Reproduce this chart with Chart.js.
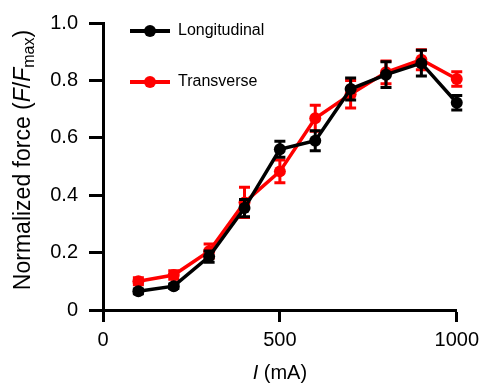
<!DOCTYPE html>
<html>
<head>
<meta charset="utf-8">
<script src="https://cdn.jsdelivr.net/npm/chart.js@4.4.1/dist/chart.umd.min.js"></script>
<style>
html,body{margin:0;padding:0;background:#fff;}
#wrap{width:485px;height:383px;}
</style>
</head>
<body>
<div id="wrap"><canvas id="c" width="485" height="383"></canvas></div>
<script>
const currents = [100, 200, 300, 400, 500, 600, 700, 800, 900, 1000];
const longMean = [0.065, 0.083, 0.186, 0.355, 0.56, 0.59, 0.77, 0.82, 0.86, 0.722];
const longErr  = [0.008, 0.008, 0.02, 0.03, 0.028, 0.035, 0.038, 0.045, 0.045, 0.025];
const transMean = [0.10, 0.122, 0.205, 0.375, 0.483, 0.668, 0.752, 0.828, 0.872, 0.805];
const transErr  = [0.012, 0.015, 0.025, 0.053, 0.04, 0.045, 0.048, 0.04, 0.035, 0.025];
const seriesNames = ['Longitudinal', 'Transverse'];
const seriesColors = ['#000000', '#ff0000'];
const xTicks = [0, 500, 1000];
const xTickLabels = ['0', '500', '1000'];
const yTicks = [0, 0.2, 0.4, 0.6, 0.8, 1.0];
const yTickLabels = ['0', '0.2', '0.4', '0.6', '0.8', '1.0'];

const FONT = '"Liberation Sans", Arial, Helvetica, sans-serif';

function pts(means){ return currents.map((x,i)=>({x:x, y:means[i]})); }

const errors = [longErr, transErr];

const errorBarPlugin = {
  id: 'errorBars',
  afterDatasetDraw(chart, args){
    const i = args.index;
    const meta = args.meta;
    const ds = chart.data.datasets[i];
    const ys = chart.scales.y;
    const ctx = chart.ctx;
    ctx.save();
    ctx.strokeStyle = ds.borderColor;
    ctx.lineWidth = 3;
    meta.data.forEach((el, j) => {
      const v = ds.data[j].y, e = errors[i][j];
      const x = el.x;
      const yt = ys.getPixelForValue(v + e);
      const yb = ys.getPixelForValue(v - e);
      ctx.beginPath();
      ctx.moveTo(x, yt); ctx.lineTo(x, yb);
      ctx.moveTo(x - 5.5, yt); ctx.lineTo(x + 5.5, yt);
      ctx.moveTo(x - 5.5, yb); ctx.lineTo(x + 5.5, yb);
      ctx.stroke();
    });
    ctx.restore();
  }
};

const legendPlugin = {
  id: 'customLegend',
  afterDraw(chart){
    const ctx = chart.ctx;
    const rows = [31, 82];
    ctx.save();
    chart.data.datasets.forEach((ds, i) => {
      const y = rows[i];
      ctx.strokeStyle = ds.borderColor;
      ctx.lineWidth = 4;
      ctx.beginPath(); ctx.moveTo(130, y); ctx.lineTo(170, y); ctx.stroke();
      ctx.fillStyle = ds.borderColor;
      ctx.beginPath(); ctx.arc(150, y, 6, 0, Math.PI*2); ctx.fill();
      ctx.fillStyle = '#000';
      ctx.font = '16px ' + FONT;
      ctx.textBaseline = 'middle';
      ctx.textAlign = 'left';
      ctx.fillText(ds.label, 178, y);
    });
    ctx.restore();
  }
};

function drawSegments(ctx, segs, cx, cy){
  let total = 0;
  segs.forEach(s => { ctx.font = s.font; s.w = ctx.measureText(s.t).width; total += s.w; });
  let x = cx - total/2;
  segs.forEach(s => {
    ctx.font = s.font;
    ctx.fillText(s.t, x, cy + (s.dy||0));
    x += s.w;
  });
}

const titlesPlugin = {
  id: 'axisTitles',
  afterDraw(chart){
    const ctx = chart.ctx;
    const ca = chart.chartArea;
    ctx.save();
    ctx.fillStyle = '#000';
    ctx.textBaseline = 'alphabetic';
    ctx.textAlign = 'left';
    // x title
    drawSegments(ctx, [
      {t:'I', font:'italic 20px ' + FONT},
      {t:' (mA)', font:'20px ' + FONT}
    ], (ca.left + ca.right)/2, 379);
    // y title
    ctx.translate(30, 160);
    ctx.rotate(-Math.PI/2);
    drawSegments(ctx, [
      {t:'Normalized force (', font:'23px ' + FONT},
      {t:'F', font:'italic 23px ' + FONT},
      {t:'/', font:'23px ' + FONT},
      {t:'F', font:'italic 23px ' + FONT},
      {t:'max', font:'16px ' + FONT, dy:4},
      {t:')', font:'23px ' + FONT}
    ], 0, 0);
    ctx.restore();
  }
};

new Chart(document.getElementById('c'), {
  type: 'line',
  data: {
    datasets: [
      {label: seriesNames[0], data: pts(longMean), borderColor: seriesColors[0], backgroundColor: seriesColors[0],
       pointBackgroundColor: seriesColors[0], borderWidth: 3.5, pointRadius: 6, pointBorderWidth: 0, clip: false, tension: 0},
      {label: seriesNames[1], data: pts(transMean), borderColor: seriesColors[1], backgroundColor: seriesColors[1],
       pointBackgroundColor: seriesColors[1], borderWidth: 3.5, pointRadius: 6, pointBorderWidth: 0, clip: false, tension: 0}
    ]
  },
  options: {
    responsive: false,
    animation: false,
    devicePixelRatio: 1,
    layout: {padding: {left: 0, right: 26, top: 20, bottom: 0}},
    plugins: {legend: {display: false}, tooltip: {enabled: false}},
    scales: {
      x: {
        type: 'linear', min: 0, max: 1000,
        afterBuildTicks: s => { s.ticks = xTicks.map(v => ({value: v})); },
        afterFit: s => { s.height = 73; },
        ticks: {color: '#000', font: {family: FONT, size: 20}, padding: 6,
                callback: (v) => xTickLabels[xTicks.indexOf(v)]},
        grid: {drawOnChartArea: false, drawTicks: true, tickLength: 12, tickWidth: 3, tickColor: '#000'},
        border: {display: true, color: '#000', width: 3}
      },
      y: {
        type: 'linear', min: 0, max: 1,
        afterBuildTicks: s => { s.ticks = yTicks.map(v => ({value: v})); },
        afterFit: s => { s.width = 103; },
        ticks: {color: '#000', font: {family: FONT, size: 20}, padding: 11,
                callback: (v) => yTickLabels[yTicks.findIndex(t => Math.abs(t - v) < 1e-9)]},
        grid: {drawOnChartArea: false, drawTicks: true, tickLength: 14, tickWidth: 3, tickColor: '#000'},
        border: {display: true, color: '#000', width: 3}
      }
    }
  },
  plugins: [errorBarPlugin, legendPlugin, titlesPlugin]
});
</script>
</body>
</html>
